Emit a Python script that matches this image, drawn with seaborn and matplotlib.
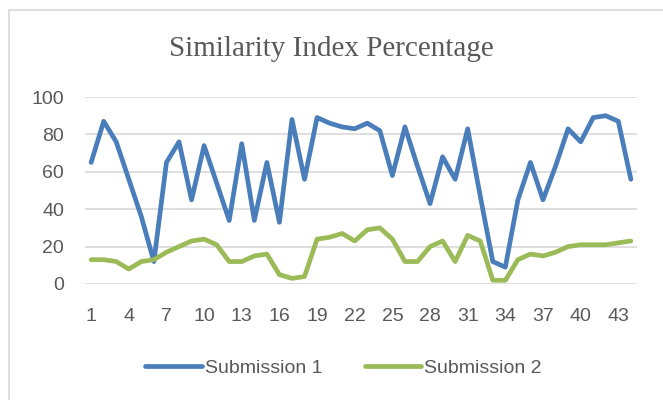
import matplotlib
matplotlib.use("Agg")
import matplotlib.pyplot as plt
from matplotlib.lines import Line2D
import seaborn as sns
import pandas as pd

submission_1 = [65, 87, 76, 56, 36, 12, 65, 76, 45, 74, 54, 34, 75, 34, 65, 33, 88, 56, 89, 86,
                84, 83, 86, 82, 58, 84, 63, 43, 68, 56, 83, 47, 12, 9, 45, 65, 45, 63, 83, 76,
                89, 90, 87, 56]
submission_2 = [13, 13, 12, 8, 12, 13, 17, 20, 23, 24, 21, 12, 12, 15, 16, 5, 3, 4, 24, 25,
                27, 23, 29, 30, 24, 12, 12, 20, 23, 12, 26, 23, 2, 2, 13, 16, 15, 17, 20, 21,
                21, 21, 22, 23]
x_index = list(range(1, len(submission_1) + 1))
x_ticks = list(range(1, 44, 3))
y_ticks = [0, 20, 40, 60, 80, 100]
series_names = ["Submission 1", "Submission 2"]

df = pd.DataFrame({
    "x": x_index * 2,
    "value": submission_1 + submission_2,
    "series": [series_names[0]] * len(submission_1) + [series_names[1]] * len(submission_2),
})

sns.set_theme(style="white")
plt.rcParams["font.family"] = ["Liberation Sans", "DejaVu Sans"]

fig = plt.figure(figsize=(6.63, 4.0), dpi=100)
ax = fig.add_axes([0.128, 0.29, 0.833, 0.4675])

# partial chart border (top and left)
fig.add_artist(Line2D([9 / 663, 1.0], [390 / 400, 390 / 400], transform=fig.transFigure,
                      color="#d9d9d9", linewidth=1.2))
fig.add_artist(Line2D([9 / 663, 9 / 663], [0.0, 390 / 400], transform=fig.transFigure,
                      color="#d9d9d9", linewidth=1.2))

palette = {series_names[0]: "#4a7ebb", series_names[1]: "#9bbb59"}
sns.lineplot(data=df, x="x", y="value", hue="series", palette=palette, linewidth=3.4,
             ax=ax, legend=True)

ax.set_xlim(0.5, 44.5)
ax.set_ylim(0, 100)
ax.set_xticks(x_ticks)
ax.set_yticks(y_ticks)
ax.set_xlabel("")
ax.set_ylabel("")
ax.grid(axis="y", color="#d9d9d9", linewidth=1.2)
ax.set_axisbelow(True)
for s in ax.spines.values():
    s.set_visible(False)
ax.tick_params(axis="y", length=0, labelsize=14, labelcolor="#595959", pad=15)
ax.tick_params(axis="x", length=0, labelsize=14, labelcolor="#595959", pad=17)

fig.text(0.5, 0.877, "Similarity Index Percentage", ha="center", va="center",
         fontsize=21, family="Liberation Serif", color="#595959")

handles, labels = ax.get_legend_handles_labels()
ax.legend(handles, labels, loc="center", bbox_to_anchor=(0.518, 0.08), bbox_transform=fig.transFigure,
          ncol=2, frameon=False, fontsize=14, labelcolor="#595959", handlelength=2.9,
          handletextpad=0.15, columnspacing=2.2)

fig.savefig("out.png", dpi=100)
